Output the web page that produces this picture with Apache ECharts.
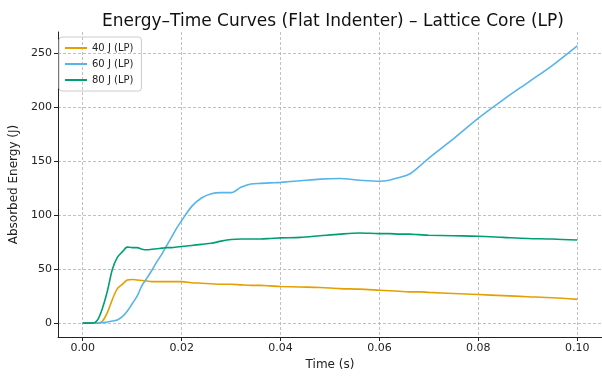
<!DOCTYPE html>
<html>
<head><meta charset="utf-8"></head>
<script type="text/javascript" src="https://cdn.jsdelivr.net/npm/echarts@6/dist/echarts.min.js"></script>
<body style="margin:0;background-color:white;">
<div id="main" style="width:602px;height:376px;"></div>
</body>
<script>
// time (s)
var time = [0, 0.001, 0.002, 0.003, 0.004, 0.005, 0.006, 0.007, 0.008, 0.009,
    0.010, 0.011, 0.012, 0.013, 0.014, 0.015, 0.016, 0.017, 0.018, 0.019,
    0.020, 0.022, 0.024, 0.026, 0.028, 0.030, 0.032, 0.034, 0.036, 0.038,
    0.040, 0.044, 0.048, 0.052, 0.056, 0.060, 0.062, 0.064, 0.066, 0.068,
    0.070, 0.075, 0.080, 0.085, 0.090, 0.095, 0.100]
var e40 = [0, 0, 0, 0, 2, 10, 22, 32, 36, 40,
    40.5, 40, 39.5, 39, 38.5, 38.5, 38.5, 38.5, 38.5, 38.5,
    38.5, 37.5, 37, 36.5, 36, 36, 35.5, 35, 35, 34.5,
    34, 33.5, 33, 32, 31.5, 30.5, 30, 29.5, 29, 29,
    28.5, 27.5, 26.5, 25.5, 24.5, 23.5, 22]
var e60 = [0, 0, 0, 0, 0.5, 1, 2, 3, 6, 11,
    18, 25, 35, 42, 49, 57, 64, 72, 80, 88,
    95, 108, 116, 120, 121, 121, 126, 129, 129.5, 130,
    130.5, 132, 133.5, 134, 132.5, 131.5, 132.5, 135, 138, 145,
    153, 171, 190, 207, 223, 239, 257]
var e80 = [0, 0, 0, 3, 14, 30, 50, 61, 66, 70.5,
    70, 70, 68.5, 68, 68.5, 69, 69.5, 70, 70, 70.5,
    71, 72, 73, 74, 76, 77.5, 78, 78, 78, 78.5,
    79, 79.5, 81, 82.5, 83.5, 83, 83, 82.5, 82.5, 82,
    81.5, 81, 80.5, 79.5, 78.5, 78, 77]
var xticks = [0, 0.02, 0.04, 0.06, 0.08, 0.10]
var yticks = [0, 50, 100, 150, 200, 250]

function pairs(v) { return time.map(function (t, i) { return [t, v[i]] }) }

var myChart = echarts.init(document.getElementById('main'))
var font = 'DejaVu Sans'
var grid = { lineStyle: { color: '#b0b0b0', type: [3, 2], width: 0.8 } }

var option = {
    animation: false,
    textStyle: { fontFamily: font },
    title: {
        text: 'Energy–Time Curves (Flat Indenter) – Lattice Core (LP)',
        left: 328, top: 8, textAlign: 'center',
        textStyle: { fontFamily: font, fontSize: 17, fontWeight: 'normal', color: '#111' }
    },
    legend: {
        orient: 'vertical', left: 59, top: 37,
        padding: [6, 8, 6, 6],
        borderColor: '#ccc', borderWidth: 1, borderRadius: 3,
        itemWidth: 22, itemHeight: 2, itemGap: 6,
        icon: 'rect',
        textStyle: { fontFamily: font, fontSize: 10, color: '#222' },
        data: ['40 J (LP)', '60 J (LP)', '80 J (LP)']
    },
    grid: { left: 54, right: 0, top: 32, bottom: 35 },
    xAxis: {
        type: 'value', min: -0.005, max: 0.105,
        name: 'Time (s)', nameLocation: 'middle', nameGap: 22,
        nameTextStyle: { fontFamily: font, fontSize: 12, color: '#222' },
        axisLine: { onZero: false, lineStyle: { color: '#222' } },
        axisTick: { show: true, length: 4, customValues: xticks, lineStyle: { color: '#222' } },
        axisLabel: { customValues: xticks, fontSize: 11, color: '#222', margin: 6,
            formatter: function (v) { return v.toFixed(2) } },
        splitLine: grid
    },
    yAxis: {
        type: 'value', min: -12.85, max: 269.85,
        name: 'Absorbed Energy (J)', nameLocation: 'middle', nameGap: 38,
        nameTextStyle: { fontFamily: font, fontSize: 12, color: '#222' },
        axisLine: { show: true, onZero: false, lineStyle: { color: '#222' } },
        axisTick: { show: true, length: 4, customValues: yticks, lineStyle: { color: '#222' } },
        axisLabel: { customValues: yticks, fontSize: 11, color: '#222', margin: 6 },
        splitLine: grid
    },
    series: [
        { name: '40 J (LP)', type: 'line', data: pairs(e40), showSymbol: false, smooth: 0.3,
          color: '#E69F00', lineStyle: { width: 1.6 } },
        { name: '60 J (LP)', type: 'line', data: pairs(e60), showSymbol: false, smooth: 0.3,
          color: '#56B4E9', lineStyle: { width: 1.6 } },
        { name: '80 J (LP)', type: 'line', data: pairs(e80), showSymbol: false, smooth: 0.3,
          color: '#009E73', lineStyle: { width: 1.6 } }
    ]
}

option && myChart.setOption(option)
</script>
</html>
